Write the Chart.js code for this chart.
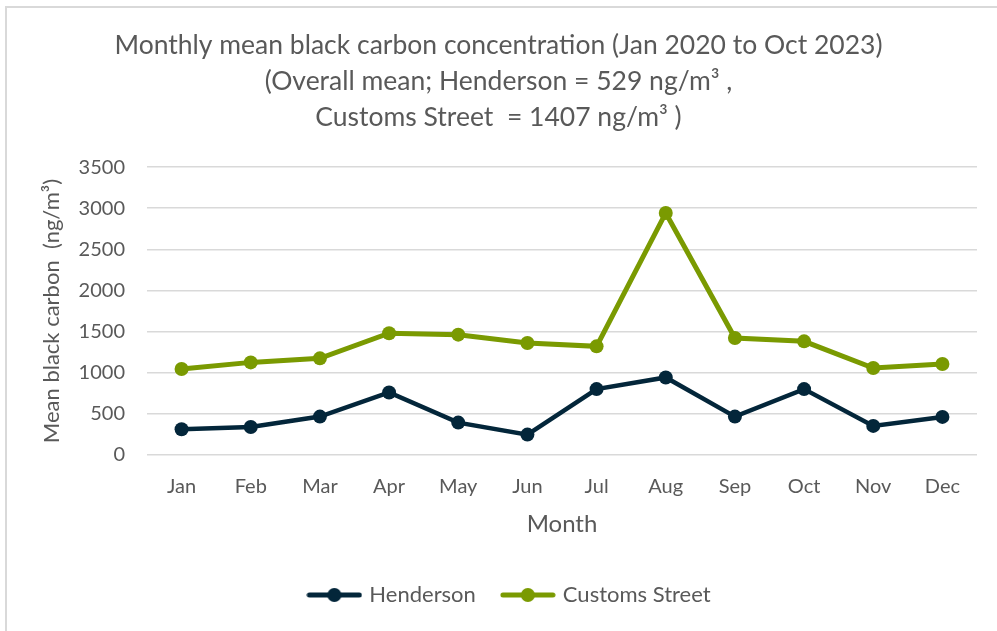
<!DOCTYPE html>
<html>
<head>
<meta charset="utf-8">
<script src="https://cdn.jsdelivr.net/npm/chart.js@4.4.1/dist/chart.umd.min.js"></script>
<style>
  html, body { margin: 0; padding: 0; background: #fff; overflow: hidden; }
  #wrap { position: relative; width: 997px; height: 631px; }
  #frame { position: absolute; left: 5px; top: 6px; width: 1100px; height: 700px; border: 2px solid #d9d9d9; box-sizing: border-box; }
  #c { position: absolute; left: 0; top: 0; }
</style>
</head>
<body>
<div id="wrap">
  <div id="frame"></div>
  <canvas id="c" width="997" height="631"></canvas>
</div>
<script>
  // monthly means, ng/m3
  const months = ["Jan", "Feb", "Mar", "Apr", "May", "Jun", "Jul", "Aug", "Sep", "Oct", "Nov", "Dec"];
  const henderson = [313, 341, 467, 760, 394, 248, 801, 943, 467, 801, 354, 463];
  const customsStreet = [1045, 1126, 1175, 1480, 1463, 1362, 1321, 2943, 1423, 1382, 1057, 1106];

  const titleLines = [
    "Monthly mean black carbon concentration (Jan 2020 to Oct 2023)",
    "(Overall mean; Henderson = 529 ng/m³ ,",
    "Customs Street  = 1407 ng/m³ )"
  ];

  const grey = "#595959";
  const navy = "#03263a";
  const olive = "#7a9a01";
  const FONT = "Lato, 'Open Sans', sans-serif";

  // legend swatch: short line with a dot in the middle
  function lineMarker(color) {
    const cv = document.createElement("canvas");
    cv.width = 56;
    cv.height = 16;
    const g = cv.getContext("2d");
    g.strokeStyle = color;
    g.lineWidth = 5;
    g.lineCap = "round";
    g.beginPath();
    g.moveTo(3, 8);
    g.lineTo(53, 8);
    g.stroke();
    g.fillStyle = color;
    g.beginPath();
    g.arc(28, 8, 7, 0, Math.PI * 2);
    g.fill();
    return cv;
  }

  // title and legend sit a little right of the plot centre
  const nudgeBoxes = {
    id: "nudgeBoxes",
    afterLayout(chart) {
      if (chart.titleBlock) { chart.titleBlock.left += 10; chart.titleBlock.right += 10; }
      if (chart.legend) { chart.legend.left += 22; chart.legend.right += 22; }
    }
  };

  const ctx = document.getElementById("c").getContext("2d");

  new Chart(ctx, {
    type: "line",
    plugins: [nudgeBoxes],
    data: {
      labels: months,
      datasets: [
        {
          label: "Henderson",
          data: henderson,
          borderColor: navy,
          backgroundColor: navy,
          borderWidth: 4.5,
          pointRadius: 7,
          pointHoverRadius: 7,
          pointBackgroundColor: navy,
          pointBorderWidth: 0,
          tension: 0
        },
        {
          label: "Customs Street",
          data: customsStreet,
          borderColor: olive,
          backgroundColor: olive,
          borderWidth: 5,
          pointRadius: 7,
          pointHoverRadius: 7,
          pointBackgroundColor: olive,
          pointBorderWidth: 0,
          tension: 0
        }
      ]
    },
    options: {
      responsive: false,
      animation: false,
      layout: { padding: { left: 0, right: 20, top: 27, bottom: 15 } },
      plugins: {
        title: {
          display: true,
          text: titleLines,
          color: grey,
          font: { family: FONT, size: 26.5, weight: "normal", lineHeight: 1.36 },
          padding: { top: 0, bottom: 32 }
        },
        legend: {
          position: "bottom",
          labels: {
            color: grey,
            font: { family: FONT, size: 22 },
            usePointStyle: true,
            pointStyleWidth: 48,
            padding: 28,
            generateLabels(chart) {
              return chart.data.datasets.map((ds, i) => ({
                text: ds.label,
                fontColor: grey,
                pointStyle: lineMarker(ds.borderColor),
                datasetIndex: i,
                lineWidth: 0,
                strokeStyle: "transparent",
                fillStyle: ds.borderColor
              }));
            }
          }
        },
        tooltip: { enabled: false }
      },
      scales: {
        x: {
          offset: true,
          grid: { display: false, drawTicks: false },
          border: { display: false },
          ticks: { color: grey, font: { family: FONT, size: 20 }, padding: 20 },
          title: {
            display: true,
            text: "Month",
            color: grey,
            font: { family: FONT, size: 24 },
            padding: { top: 4, bottom: 17 }
          },
          afterFit(scale) { scale.height = 101; }
        },
        y: {
          min: 0,
          max: 3500,
          ticks: {
            stepSize: 500,
            color: grey,
            font: { family: FONT, size: 20 },
            padding: 22,
            callback: (v) => String(v)
          },
          grid: { color: "#d9d9d9", lineWidth: 1.5, drawTicks: false },
          border: { display: false },
          title: {
            display: true,
            text: "Mean black carbon  (ng/m³)",
            color: grey,
            font: { family: FONT, size: 22 },
            padding: { top: 39, bottom: 0 }
          },
          afterFit(scale) { scale.width = 147; }
        }
      }
    }
  });
</script>
</body>
</html>
